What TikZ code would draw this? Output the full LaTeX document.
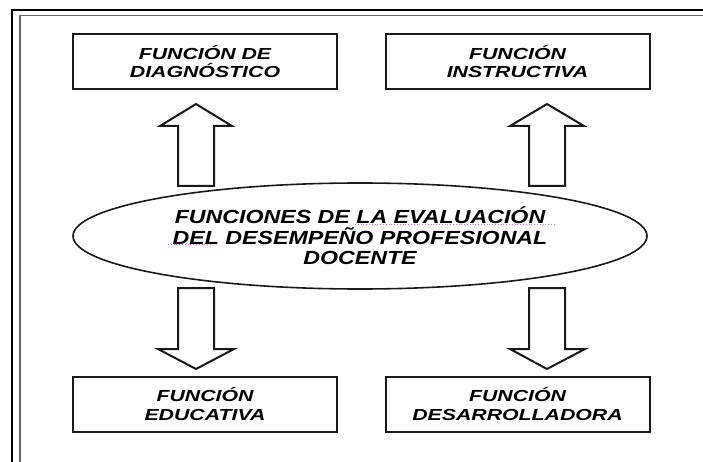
\documentclass[tikz,border=0pt]{standalone}
\usepackage{fontspec}
\usepackage{xcolor}
\newfontfamily\boxfont[FakeStretch=1.33]{Liberation Sans}
\newfontfamily\ovalfont[FakeStretch=1.22]{Liberation Sans}
\usetikzlibrary{shapes.geometric}
\definecolor{framegrey}{gray}{0.4}
\definecolor{spellpink}{RGB}{214,110,214}

\begin{document}
\begin{tikzpicture}[x=1pt,y=-1pt,
  fbox/.style={draw=black!90,line width=2pt,minimum width=264pt,minimum height=55pt,
    align=center,font=\boxfont\fontsize{16}{18.5}\selectfont\bfseries\itshape,inner sep=0pt},
  blockarrow/.style={draw=black!90,line width=2pt,line join=miter,fill=white}]
\useasboundingbox (0,0) rectangle (703,462);
\clip (0,0) rectangle (703,462);
% frame
\draw[line width=1.3pt] (12,470) -- (12,10) -- (710,10);
\draw[framegrey,line width=1.2pt] (20,470) -- (20,15.5) -- (710,15.5);
% boxes
\node[fbox] (diag) at (205,61.5) {FUNCIÓN DE\\DIAGNÓSTICO};
\node[fbox] (instr) at (517.5,61.5) {FUNCIÓN\\INSTRUCTIVA};
\node[fbox] (educ) at (205,404) {FUNCIÓN\\EDUCATIVA};
\node[fbox] (desar) at (517.5,404) {FUNCIÓN\\DESARROLLADORA};
% centre
\node[ellipse,draw=black!90,line width=1.6pt,minimum width=574pt,minimum height=106pt,
  align=center,inner sep=0pt,font=\ovalfont\fontsize{19}{20.5}\selectfont\bfseries\itshape]
  (eval) at (360,236) {FUNCIONES DE LA EVALUACIÓN\\DEL DESEMPEÑO PROFESIONAL\\DOCENTE};
% spelling marks
\draw[spellpink,line width=0.8pt,dotted] (355,224) -- (555,224);
\draw[spellpink,line width=0.8pt,dotted] (168,244) -- (212,244);
% arrows up
\draw[blockarrow] (178,186) -- (178,126) -- (160,126) -- (196,104) -- (232,126) -- (214,126) -- (214,186) -- cycle;
\draw[blockarrow] (529,186) -- (529,126) -- (510,126) -- (547,104) -- (584,126) -- (565,126) -- (565,186) -- cycle;
% arrows down
\draw[blockarrow] (178,288) -- (178,349) -- (158,349) -- (196,369) -- (234,349) -- (214,349) -- (214,288) -- cycle;
\draw[blockarrow] (529,288) -- (529,349) -- (510,349) -- (547,369) -- (585,349) -- (565,349) -- (565,288) -- cycle;
\end{tikzpicture}
\end{document}
